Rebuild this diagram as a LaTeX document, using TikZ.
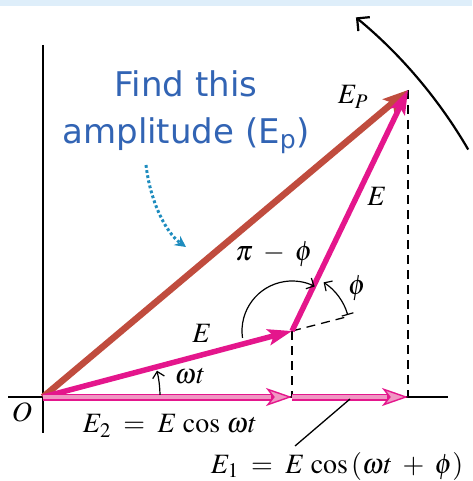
\documentclass[tikz,border=0pt]{standalone}
\usepackage{mathptmx}
\usepackage{fontspec}
\setmainfont{Liberation Serif}
\newfontfamily\notefont{DejaVu Sans}
\usetikzlibrary{arrows.meta,calc}
\definecolor{phasor}{RGB}{228,22,140}
\definecolor{phasorlight}{RGB}{240,150,195}
\definecolor{resred}{RGB}{192,76,62}
\definecolor{noteblue}{RGB}{50,100,180}
\definecolor{dotblue}{RGB}{30,140,190}
\definecolor{band}{RGB}{222,238,250}
\tikzset{
  axisline/.style={line width=1.3pt, black},
  guide/.style={line width=1.3pt, black, dash pattern=on 9pt off 6pt},
  phasorvec/.style={phasor, line width=5.5pt, -{Stealth[length=24pt,width=16pt,inset=5pt]}},
  resvec/.style={resred, line width=6.5pt, -{Stealth[length=25pt,width=18pt,inset=5pt]}},
  dblout/.style={phasor, line width=7pt, -{Stealth[length=26pt,width=18pt,inset=7pt,line width=1.4pt,fill=phasorlight]}},
  dblin/.style={phasorlight, line width=3.2pt, shorten >=21pt},
  anglearc/.style={line width=1.2pt, black},
  lbl/.style={font=\fontsize{28}{32}\selectfont, inner sep=0pt},
  note/.style={font=\notefont\fontsize{34}{46}\selectfont, text=noteblue, align=center, inner sep=0pt}
}
\begin{document}
\begin{tikzpicture}[x=1pt,y=-1pt]
\useasboundingbox (0,0) rectangle (472,481);
\fill[band] (0,0) rectangle (472,6);
% key points
\coordinate (O) at (43,397);
\coordinate (A) at (292,331);
\coordinate (P) at (408,90);
\coordinate (A0) at (292,397);
\coordinate (B) at (408,397);
\coordinate (Xl) at (8,397);
\coordinate (Xr) at (448,397);
\coordinate (Yt) at (43,45);
\coordinate (Yb) at (43,433);
\coordinate (Ext) at (350,316);
% axes
\draw[axisline] (Xl) -- (Xr);
\draw[axisline] (Yt) -- (Yb);
% dashed guides
\draw[guide] (A) -- (A0);
\draw[guide] (P) -- (B);
\draw[guide] (A) -- (Ext);
% resultant
\draw[resvec] (O) -- (P);
% phasors
\draw[phasorvec] (O) -- (A);
\draw[phasorvec] (A) -- (P);
% projections (double arrows)
\draw[dblout] (O) -- (A0);
\draw[dblin] (O) -- (A0);
\draw[dblout] (A0) -- (B);
\draw[dblin] (A0) -- (B);
% angle arcs
\draw[anglearc, -{Straight Barb[length=6pt,width=12pt]}] ($(O)+(-1:117)$) arc[start angle=-1, end angle=-13, radius=117];
\draw[anglearc, -{Straight Barb[length=6pt,width=12pt]}] ($(A)+(-188:50)$) arc[start angle=-188, end angle=-63, radius=50];
\draw[anglearc, {Bar[width=12pt]}-{Straight Barb[length=6pt,width=12pt]}] ($(A)+(-16:58)$) arc[start angle=-16, end angle=-57, radius=58];
% rotation arc
\draw[line width=2.2pt, black, -{Straight Barb[length=9pt,width=18pt]}] ($(O)+(-30.2:492)$) arc[start angle=-30.2, end angle=-50.5, radius=492];
% note arrow
\coordinate (Ns) at (146,165);
\coordinate (Ne) at (186,247);
\draw[dotblue, line width=3pt, dash pattern=on 2.8pt off 2.4pt, -{Stealth[length=11pt,width=11pt]}] (Ns) .. controls (150,200) and (165,232) .. (Ne);
% leader
\coordinate (L1) at (350,399);
\coordinate (L2) at (295,446);
\draw[line width=1.3pt] (L1) -- (L2);
% labels
\node[lbl] (lO) at (22,412) {$O$};
\node[lbl] (lE2) at (170,426) {$E_2 \;=\; E\,\cos\,\omega t$};
\node[lbl] (lE1) at (337,466) {$E_1 \;=\; E\,\cos\,(\omega t\;+\;\phi)$};
\node[lbl] (lwt) at (190,376) {$\omega t$};
\node[lbl] (lEa) at (202,333) {$E$};
\node[lbl] (lEb) at (377,196) {$E$};
\node[lbl] (lEP) at (353,97) {$E_P$};
\node[lbl] (lpf) at (274,254) {$\pi\;-\;\phi$};
\node[lbl] (lph) at (357,288) {$\phi$};
\node[note, anchor=base] (nt) at (186,143) {Find this\\amplitude (E\textsubscript{p})};
\end{tikzpicture}
\end{document}
